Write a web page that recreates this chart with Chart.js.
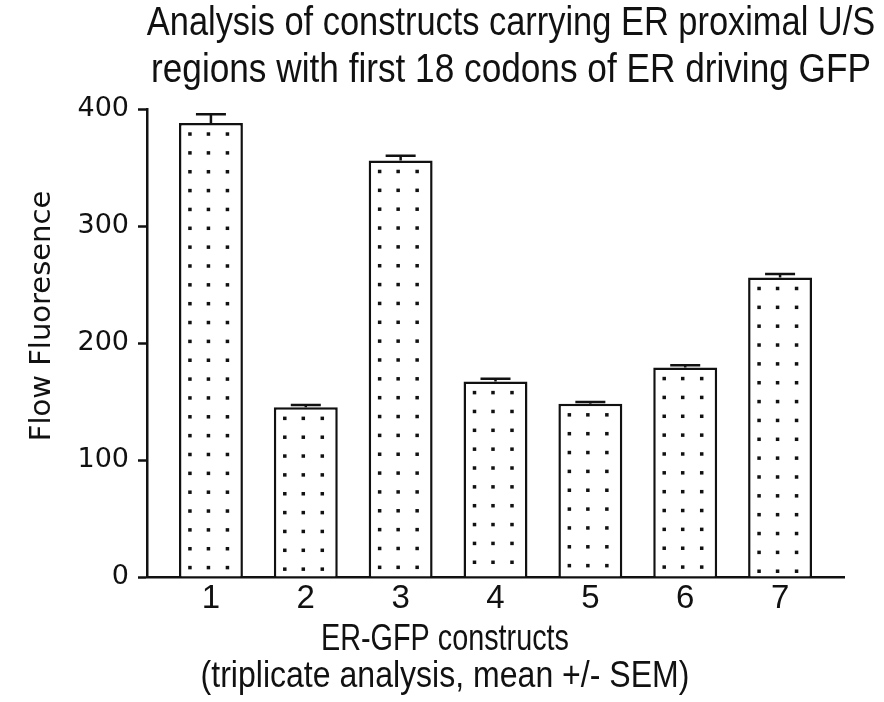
<!DOCTYPE html>
<html>
<head>
<meta charset="utf-8">
<script src="https://cdn.jsdelivr.net/npm/chart.js@4.4.0/dist/chart.umd.min.js"></script>
<style>
  html, body { margin: 0; padding: 0; background: #fff; }
  #wrap { width: 884px; height: 702px; position: relative; }
</style>
</head>
<body>
<div id="wrap"><canvas id="flowChart"></canvas></div>
<script>
// Values
const constructs = ['1', '2', '3', '4', '5', '6', '7'];
const meanFluor = [388, 145, 356, 167, 148, 179, 256];
const semFluor = [7.5, 2, 4, 2.5, 1.5, 2, 3];
const yTicks = [0, 100, 200, 300, 400];
const titleLines = ['Analysis of constructs carrying ER proximal U/S',
                    'regions with first 18 codons of ER driving GFP'];
const xTitleLines = ['ER-GFP constructs', '(triplicate analysis, mean +/- SEM)'];
const yTitle = 'Flow Fluoresence';

const sans = '"Liberation Sans", Arial, sans-serif';
const plain = '"DejaVu Sans", sans-serif';
const ink = '#111';

// dotted fill inside each bar
const stipplePlugin = {
    id: 'stipple',
    afterDatasetsDraw(chart) {
        const ctx = chart.ctx;
        ctx.save();
        ctx.fillStyle = ink;
        chart.getDatasetMeta(0).data.forEach(bar => {
            for (let y = bar.y + 11; y < bar.base - 5; y += 18.85) {
                [-21, -2.5, 16.5].forEach(dx => {
                    ctx.fillRect(bar.x + dx - 1.75, y - 1.75, 3.5, 3.5);
                });
            }
        });
        ctx.restore();
    }
};

// SEM error bars (upper half only, like the original)
const errorBarPlugin = {
    id: 'errorBars',
    afterDatasetsDraw(chart) {
        const ctx = chart.ctx;
        const yScale = chart.scales.y;
        ctx.save();
        ctx.strokeStyle = ink;
        ctx.lineWidth = 2.5;
        chart.getDatasetMeta(0).data.forEach((bar, i) => {
            const yTop = yScale.getPixelForValue(meanFluor[i] + semFluor[i]);
            ctx.beginPath();
            ctx.moveTo(bar.x, bar.y);
            ctx.lineTo(bar.x, yTop);
            ctx.moveTo(bar.x - 15, yTop);
            ctx.lineTo(bar.x + 15, yTop);
            ctx.stroke();
        });
        ctx.restore();
    }
};

// narrow text: regular sans squeezed horizontally
function narrowText(ctx, text, x, y, size, squeeze) {
    ctx.save();
    ctx.font = size + 'px ' + sans;
    ctx.translate(x, y);
    ctx.scale(squeeze, 1);
    ctx.fillText(text, 0, 0);
    ctx.restore();
}

// title and axis titles
const captionPlugin = {
    id: 'captions',
    afterDraw(chart) {
        const { ctx, chartArea: area, width } = chart;
        ctx.save();
        ctx.fillStyle = ink;
        ctx.textAlign = 'center';
        ctx.textBaseline = 'alphabetic';

        narrowText(ctx, titleLines[0], area.left + 364, 35, 40, 0.86);
        narrowText(ctx, titleLines[1], area.left + 364, 82, 40, 0.88);

        narrowText(ctx, xTitleLines[0], width / 2 + 3, 650, 36, 0.8);
        narrowText(ctx, xTitleLines[1], width / 2 + 3, 687, 36, 0.89);

        ctx.font = '29px ' + plain;
        ctx.translate(50, 316);
        ctx.rotate(-Math.PI / 2);
        ctx.fillText(yTitle, 0, 0);
        ctx.restore();
    }
};

new Chart(document.getElementById('flowChart'), {
    type: 'bar',
    data: {
        datasets: [{
            data: meanFluor.map((v, i) => ({ x: i + 1, y: v })),
            backgroundColor: '#fff',
            borderColor: ink,
            borderWidth: 2.5,
            barPercentage: 0.674,
            categoryPercentage: 1
        }]
    },
    options: {
        responsive: true,
        maintainAspectRatio: false,
        animation: false,
        layout: { padding: { top: 109, right: 40, bottom: 0, left: 0 } },
        plugins: {
            legend: { display: false },
            tooltip: { enabled: false },
            title: { display: false }
        },
        scales: {
            x: {
                type: 'linear',
                offset: false,
                min: 0.326,
                max: 7.674,
                afterBuildTicks: s => { s.ticks = constructs.map((c, i) => ({ value: i + 1 })); },
                afterFit: s => { s.height = 125; },
                grid: { display: false, drawTicks: false },
                border: { color: ink, width: 2.5 },
                ticks: {
                    callback: v => constructs[v - 1],
                    font: { family: sans, size: 33 },
                    color: ink,
                    padding: 2,
                    maxRotation: 0,
                    autoSkip: false
                }
            },
            y: {
                min: 0,
                max: 400,
                afterBuildTicks: s => { s.ticks = yTicks.map(v => ({ value: v })); },
                afterFit: s => { s.width = 147; },
                grid: { drawOnChartArea: false, tickLength: 9, tickWidth: 2.5, tickColor: ink },
                border: { color: ink, width: 2.5 },
                ticks: {
                    font: { family: plain, size: 27 },
                    color: ink,
                    padding: 9
                }
            }
        }
    },
    plugins: [stipplePlugin, errorBarPlugin, captionPlugin]
});
</script>
</body>
</html>
